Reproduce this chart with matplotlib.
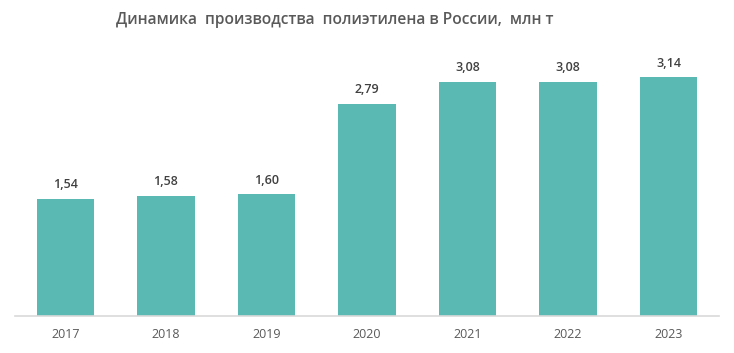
import matplotlib.pyplot as plt

years = ['2017', '2018', '2019', '2020', '2021', '2022', '2023']
values = [1.54, 1.58, 1.60, 2.79, 3.08, 3.08, 3.14]
title = 'Динамика  производства  полиэтилена в России,  млн т'

plt.rcParams['font.family'] = ['Open Sans', 'DejaVu Sans']

fig = plt.figure(figsize=(7.34, 3.53), dpi=100)
ax = fig.add_axes([15 / 734, 37 / 353, 704 / 734, 276 / 353])

x = range(len(years))
bars = ax.bar(x, values, width=0.57, color='#5BB9B4', zorder=2)

for xi, v in zip(x, values):
    ax.annotate(f'{v:.2f}'.replace('.', ','), (xi, v), xytext=(0, 5.5),
                textcoords='offset points', ha='center', va='bottom',
                fontsize=9, color='#404040', fontweight='semibold')

ax.set_xlim(-0.5, len(years) - 0.5)
ax.set_ylim(0, 3.63)
ax.set_xticks(list(x))
ax.set_xticklabels(years, fontsize=9, color='#595959', fontweight='medium')
ax.tick_params(axis='x', length=0, pad=9)
ax.set_yticks([])
for side in ['top', 'left', 'right']:
    ax.spines[side].set_visible(False)
ax.spines['bottom'].set_color('#D9D9D9')
ax.spines['bottom'].set_linewidth(1.2)

fig.text(335 / 734, 1 - 20 / 353, title, ha='center', va='center',
         fontsize=11.2, color='#595959', fontweight='semibold')

fig.savefig('out.png', dpi=100, facecolor='white')
